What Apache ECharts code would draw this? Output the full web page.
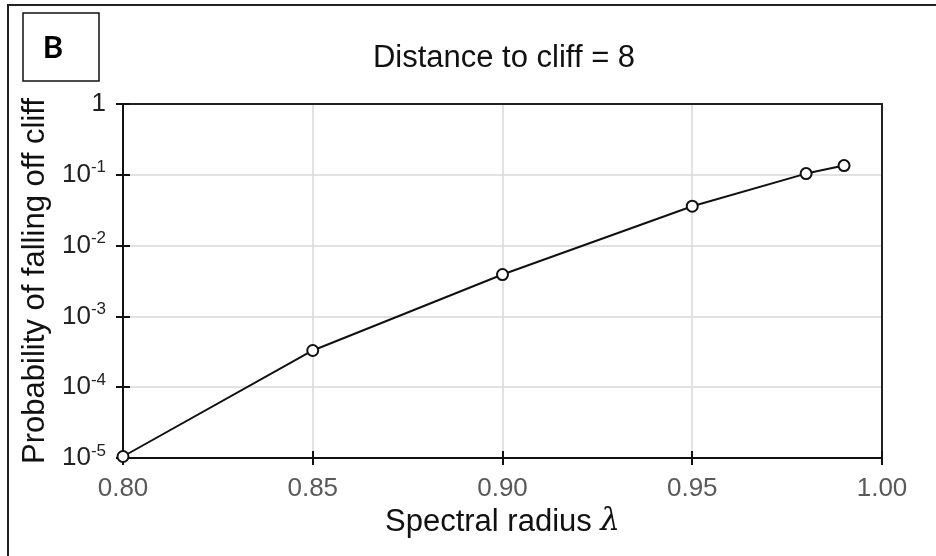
<!DOCTYPE html>
<html>
<head>
<meta charset="utf-8">
<script src="https://cdn.jsdelivr.net/npm/echarts@6/dist/echarts.min.js"></script>
<style>
html,body{margin:0;padding:0;background:#fff;}
#c{width:936px;height:556px;}
</style>
</head>
<body>
<div id="c"></div>
<script>
const spectralRadius = [0.80, 0.85, 0.90, 0.95, 0.98, 0.99];
const probFall = [1.05e-5, 3.3e-4, 3.9e-3, 0.036, 0.104, 0.135];
const xTicks = [0.80, 0.85, 0.90, 0.95, 1.00];
const yExponents = [0, -1, -2, -3, -4, -5];
const titleText = 'Distance to cliff = 8';
const xName = 'Spectral radius ';
const yName = 'Probability of falling off cliff';
const panelLabel = 'B';

const FONT = '"Liberation Sans", Arial, sans-serif';
const chart = echarts.init(document.getElementById('c'), null, {renderer: 'canvas'});

function yLabel(v) {
  const e = Math.round(Math.log10(v));
  if (!yExponents.includes(e)) return '';
  if (e === 0) return '{b|1}';
  return '{b|10}{s|' + e + '}';
}
function xLabel(v) {
  const t = xTicks.find(x => Math.abs(x - v) < 1e-9);
  return t === undefined ? '' : t.toFixed(2);
}

const gridPos = {left: 123, right: 54, top: 104, bottom: 98};
const data = spectralRadius.map((x, i) => [x, probFall[i]]);
const frameLine = {show: true, lineStyle: {color: '#222', width: 2}};
const off = {show: false};

chart.setOption({
  animation: false,
  backgroundColor: '#fff',
  textStyle: {fontFamily: FONT},
  title: {
    text: titleText,
    left: 499, top: 38, textAlign: 'center',
    textStyle: {fontFamily: FONT, fontSize: 31, fontWeight: 'normal', color: '#111'}
  },
  grid: gridPos,
  xAxis: [{
    type: 'value', min: 0.80, max: 1.00, interval: 0.05,
    axisLine: {show: true, lineStyle: {color: '#111', width: 2}},
    axisTick: {show: true, length: 7, lineStyle: {color: '#111', width: 2}},
    axisLabel: {color: '#595959', fontSize: 26, fontFamily: FONT, margin: 18, formatter: xLabel},
    splitLine: {show: true, lineStyle: {color: '#d9d9d9', width: 1.5}},
    name: '{a|' + xName + '}{l|λ}',
    nameLocation: 'middle', nameGap: 48,
    nameTextStyle: {rich: {
      a: {fontSize: 31, fontFamily: FONT, color: '#111'},
      l: {fontSize: 31, fontFamily: '"DejaVu Serif", serif', fontStyle: 'italic', color: '#111'}
    }}
  }, {
    type: 'value', min: 0.80, max: 1.00, interval: 0.05, position: 'bottom',
    axisLine: off,
    axisTick: {show: true, inside: true, length: 7, lineStyle: {color: '#111', width: 2}},
    axisLabel: off, splitLine: off
  }, {
    type: 'value', min: 0.80, max: 1.00, interval: 0.05, position: 'top',
    axisLine: frameLine, axisTick: off, axisLabel: off, splitLine: off
  }],
  yAxis: [{
    type: 'log', logBase: 10, min: 1e-5, max: 1,
    axisLine: {show: true, lineStyle: {color: '#111', width: 2}},
    axisTick: {show: true, length: 7, lineStyle: {color: '#111', width: 2}},
    minorTick: off,
    axisLabel: {fontFamily: FONT, margin: 17, formatter: yLabel,
      rich: {
        b: {fontSize: 26, fontFamily: FONT, color: '#222'},
        s: {fontSize: 17, fontFamily: FONT, color: '#222', padding: [0, 0, 14, 0]}
      }},
    splitLine: {show: true, lineStyle: {color: '#d9d9d9', width: 1.5}},
    name: yName, nameLocation: 'middle', nameGap: 70, nameRotate: 90,
    nameTextStyle: {fontSize: 31, fontFamily: FONT, color: '#111'}
  }, {
    type: 'log', logBase: 10, min: 1e-5, max: 1, position: 'left',
    axisLine: off,
    axisTick: {show: true, inside: true, length: 7, lineStyle: {color: '#111', width: 2}},
    axisLabel: off, splitLine: off, minorTick: off
  }, {
    type: 'log', logBase: 10, min: 1e-5, max: 1, position: 'right',
    axisLine: frameLine, axisTick: off, axisLabel: off, splitLine: off, minorTick: off
  }],
  series: [{
    type: 'line', xAxisIndex: 0, yAxisIndex: 0,
    data: data,
    symbol: 'circle', symbolSize: 11,
    itemStyle: {color: '#fff', borderColor: '#111', borderWidth: 2},
    lineStyle: {color: '#111', width: 2},
    z: 5
  }],
  graphic: [
    {type: 'rect', shape: {x: 8, y: 5, width: 960, height: 600},
     style: {fill: null, stroke: '#222', lineWidth: 2}, z: 10},
    {type: 'rect', shape: {x: 23, y: 13, width: 76, height: 68},
     style: {fill: '#fff', stroke: '#111', lineWidth: 1.5}, z: 10},
    {type: 'text', x: 53, y: 48, z: 11,
     style: {text: panelLabel, font: 'bold 31px Lato, "Liberation Sans", sans-serif',
       fill: '#000', textAlign: 'center', textVerticalAlign: 'middle'}}
  ]
});
</script>
</body>
</html>
